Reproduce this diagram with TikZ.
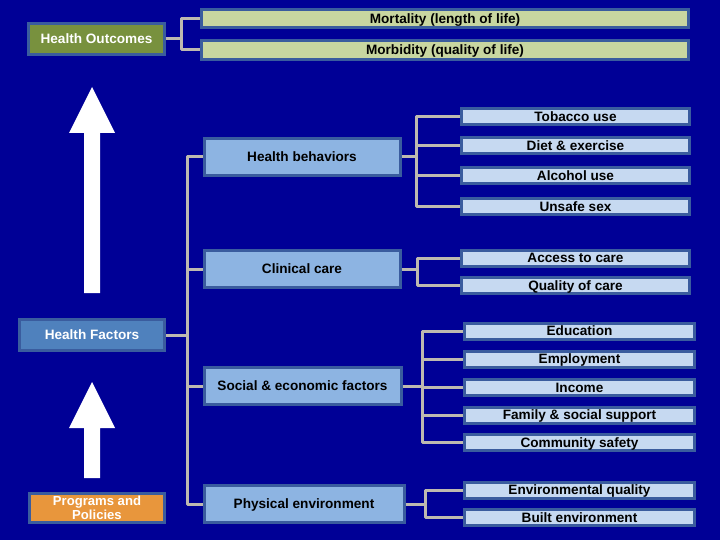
\documentclass[tikz,border=0pt]{standalone}
\usepackage{fontspec}
\setmainfont{Liberation Sans}
\definecolor{bgblue}{RGB}{0,0,150}
\definecolor{edgeblue}{RGB}{58,92,158}
\definecolor{olive}{RGB}{120,145,62}
\definecolor{palegreen}{RGB}{200,214,160}
\definecolor{midblue}{RGB}{141,180,226}
\definecolor{paleblue}{RGB}{198,217,241}
\definecolor{hfblue}{RGB}{79,129,189}
\definecolor{orng}{RGB}{232,150,60}
\definecolor{conngray}{RGB}{190,185,176}
\tikzset{
  base/.style={draw=edgeblue, line width=3pt, inner sep=0pt,
    font=\fontsize{13.6}{14}\selectfont\bfseries},
  oneline/.style={base, text height=9.8pt, text depth=0pt},
  whitebox/.style={oneline, text=white},
  midbox/.style={oneline, fill=midblue, text=black, minimum width=196pt, minimum height=37pt},
  leafbox/.style={oneline, fill=paleblue, text=black, minimum height=16pt},
  conn/.style={draw=conngray, line width=3pt, line join=round},
}
\begin{document}
\begin{tikzpicture}[x=1pt,y=-1pt]
\fill[bgblue] (0,0) rectangle (720,540);
\useasboundingbox (0,0) rectangle (720,540);

% arrows
\fill[white] (84,293) -- (84,133) -- (69,133) -- (92,87) -- (115,133) -- (100,133) -- (100,293) -- cycle;
\fill[white] (84,478) -- (84,428) -- (69,428) -- (92,382) -- (115,428) -- (100,428) -- (100,478) -- cycle;

% left nodes
\node[whitebox, fill=olive, minimum width=136pt, minimum height=31pt] (ho) at (96.5,39) {Health Outcomes};
\node[whitebox, fill=hfblue, minimum width=145pt, minimum height=31pt] (hf) at (92,335) {Health Factors};
\node[base, text=white, fill=orng, align=center, minimum width=135pt, minimum height=29pt,
  font=\fontsize{13.1}{14}\selectfont\bfseries] (pp) at (97,507.5) {Programs and\\Policies};

% outcomes
\node[oneline, fill=palegreen, text=black, minimum width=487pt, minimum height=18pt] (mort) at (445,18.5) {Mortality (length of life)};
\node[oneline, fill=palegreen, text=black, minimum width=487pt, minimum height=19pt] (morb) at (445,50) {Morbidity (quality of life)};

% middle nodes
\node[midbox] (hb) at (302,157) {Health behaviors};
\node[midbox] (cc) at (302,269) {Clinical care};
\node[midbox, minimum width=197pt] (se) at (302.5,386) {Social \& economic factors};
\node[midbox, minimum width=200pt] (pe) at (304,504) {Physical environment};

% leaves
\node[leafbox, minimum width=228pt] (tob) at (575.5,116.5) {Tobacco use};
\node[leafbox, minimum width=228pt] (diet) at (575.5,145.5) {Diet \& exercise};
\node[leafbox, minimum width=228pt] (alc) at (575.5,175.5) {Alcohol use};
\node[leafbox, minimum width=228pt] (sex) at (575.5,206.5) {Unsafe sex};
\node[leafbox, minimum width=228pt] (acc) at (575.5,258) {Access to care};
\node[leafbox, minimum width=228pt] (qual) at (575.5,285.5) {Quality of care};
\node[leafbox, minimum width=230pt] (edu) at (579.5,331) {Education};
\node[leafbox, minimum width=230pt] (emp) at (579.5,359) {Employment};
\node[leafbox, minimum width=230pt] (inc) at (579.5,387.5) {Income};
\node[leafbox, minimum width=230pt] (fam) at (579.5,415) {Family \& social support};
\node[leafbox, minimum width=230pt] (com) at (579.5,442.5) {Community safety};
\node[leafbox, minimum width=230pt] (envq) at (579.5,490) {Environmental quality};
\node[leafbox, minimum width=230pt] (built) at (579.5,517.5) {Built environment};

% connectors: outcomes
\draw[conn] (mort.west) -- ++(-19,0) |- (morb.west);
\draw[conn] (ho.east) -- ++(15,0);

% main trunk
\draw[conn] (hb.west) -| ([xshift=-15pt]pe.west) -- (pe.west);
\draw[conn] (cc.west) -- ++(-15,0);
\draw[conn] (se.west) -- ++(-15,0);
\draw[conn] (hf.east) -- ++(22,0);

% health behaviors group
\draw[conn] (hb.east) -- ++(15,0);
\draw[conn] (tob.west) -- ++(-44,0) |- (sex.west);
\draw[conn] (diet.west) -- ++(-44,0);
\draw[conn] (alc.west) -- ++(-44,0);

% clinical care group
\draw[conn] (cc.east) -- ++(16,0);
\draw[conn] (acc.west) -- ++(-43,0) |- (qual.west);

% social group
\draw[conn] (se.east) -- ++(20,0);
\draw[conn] (edu.west) -- ++(-41,0) |- (com.west);
\draw[conn] (emp.west) -- ++(-41,0);
\draw[conn] (inc.west) -- ++(-41,0);
\draw[conn] (fam.west) -- ++(-41,0);

% physical group
\draw[conn] (pe.east) -- ++(20,0);
\draw[conn] (envq.west) -- ++(-38,0) |- (built.west);
\end{tikzpicture}
\end{document}
